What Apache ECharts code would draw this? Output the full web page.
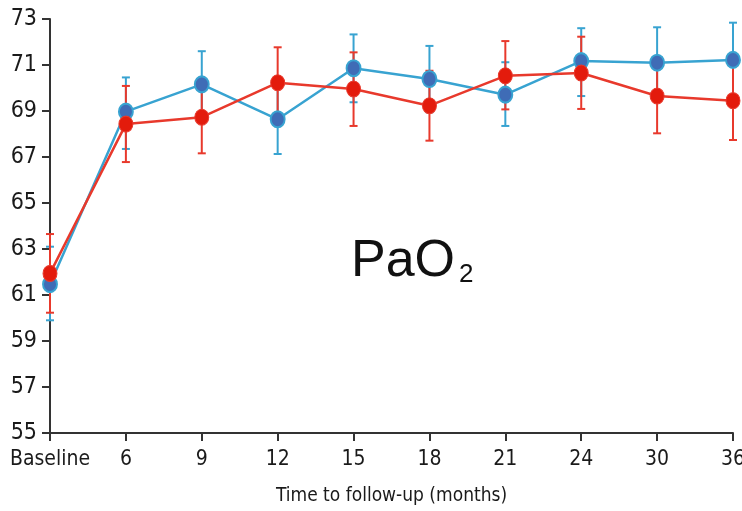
<!DOCTYPE html>
<html>
<head>
<meta charset="utf-8">
<script src="https://cdn.jsdelivr.net/npm/echarts@6/dist/echarts.min.js"></script>
<style>
  html, body { margin: 0; padding: 0; background: #fff; }
  #chart { width: 742px; height: 511px; }
</style>
</head>
<body>
<div id="chart"></div>
<script>
// time points (months)
const categories = ['Baseline', '6', '9', '12', '15', '18', '21', '24', '30', '36'];

// blue group: mean and error bar ends
const blueMean = [61.47, 68.97, 70.16, 68.64, 70.86, 70.39, 69.71, 71.17, 71.10, 71.22];
const blueLow  = [59.90, 67.35, 68.70, 67.13, 69.38, 68.95, 68.35, 69.65, 69.55, 69.60];
const blueHigh = [63.10, 70.46, 71.60, 70.15, 72.33, 71.83, 71.12, 72.60, 72.64, 72.84];

// red group
const redMean = [61.94, 68.43, 68.73, 70.23, 69.96, 69.23, 70.53, 70.65, 69.65, 69.45];
const redLow  = [60.23, 66.78, 67.16, 68.70, 68.35, 67.71, 69.07, 69.09, 68.03, 67.74];
const redHigh = [63.65, 70.09, 70.30, 71.77, 71.55, 70.75, 72.04, 72.23, 71.27, 71.16];

const yTicks = [55, 57, 59, 61, 63, 65, 67, 69, 71, 73];

const labelFont = "'Liberation Sans Narrow', 'DejaVu Sans Condensed', 'Roboto', sans-serif";

const chart = echarts.init(document.getElementById('chart'));

// error bar drawn with custom series
function errorBars(low, high, color) {
  return {
    type: 'custom',
    data: categories.map((c, i) => [i, low[i], high[i]]),
    z: 2,
    silent: true,
    renderItem: function (params, api) {
      const lo = api.coord([api.value(0), api.value(1)]);
      const hi = api.coord([api.value(0), api.value(2)]);
      const w = 4;
      const st = { stroke: color, lineWidth: 2 };
      return {
        type: 'group',
        children: [
          { type: 'line', shape: { x1: lo[0], y1: lo[1], x2: hi[0], y2: hi[1] }, style: st },
          { type: 'line', shape: { x1: lo[0] - w, y1: lo[1], x2: lo[0] + w, y2: lo[1] }, style: st },
          { type: 'line', shape: { x1: hi[0] - w, y1: hi[1], x2: hi[0] + w, y2: hi[1] }, style: st }
        ]
      };
    }
  };
}

const option = {
  backgroundColor: '#fff',
  animation: false,
  grid: { left: 50, right: 9, top: 19, bottom: 78, containLabel: false, outerBoundsMode: 'none' },
  xAxis: {
    type: 'category',
    data: categories,
    boundaryGap: false,
    name: 'Time to follow-up (months)',
    nameLocation: 'middle',
    nameGap: 54,
    nameTextStyle: { fontFamily: labelFont, fontSize: 19, color: '#1a1a1a' },
    axisLine: { lineStyle: { color: '#333', width: 2 } },
    axisTick: { alignWithLabel: true, interval: 0, length: 8, lineStyle: { color: '#333', width: 2 } },
    axisLabel: { interval: 0, margin: 16, fontFamily: labelFont, fontSize: 21, color: '#1a1a1a' },
    splitLine: { show: false }
  },
  yAxis: {
    type: 'value',
    min: yTicks[0],
    max: yTicks[yTicks.length - 1],
    interval: 2,
    axisLine: { show: true, lineStyle: { color: '#333', width: 2 } },
    axisTick: { show: true, length: 8, lineStyle: { color: '#333', width: 2 } },
    axisLabel: { margin: 13, fontFamily: labelFont, fontSize: 23, color: '#1a1a1a' },
    splitLine: { show: false }
  },
  graphic: [{
    type: 'text',
    left: 351,
    top: 236,
    style: {
      text: '{a|PaO}{b|2}',
      rich: {
        a: { fontFamily: "'Liberation Sans', Arial, sans-serif", fontSize: 52, fill: '#111' },
        b: { fontFamily: "'Liberation Sans', Arial, sans-serif", fontSize: 26, fill: '#111', padding: [26, 0, 0, 4] }
      }
    }
  }],
  series: [
    errorBars(blueLow, blueHigh, '#38a3d1'),
    {
      type: 'line',
      data: blueMean,
      z: 3,
      symbol: 'circle',
      symbolSize: [14, 16],
      lineStyle: { color: '#38a3d1', width: 2.5 },
      itemStyle: { color: '#3f6cb6', borderColor: '#38a3d1', borderWidth: 2 }
    },
    errorBars(redLow, redHigh, '#e8392c'),
    {
      type: 'line',
      data: redMean,
      z: 4,
      symbol: 'circle',
      symbolSize: [14, 16],
      lineStyle: { color: '#e8392c', width: 2.5 },
      itemStyle: { color: '#e31b0c', borderColor: '#e8392c', borderWidth: 1 }
    }
  ]
};

chart.setOption(option);
</script>
</body>
</html>
